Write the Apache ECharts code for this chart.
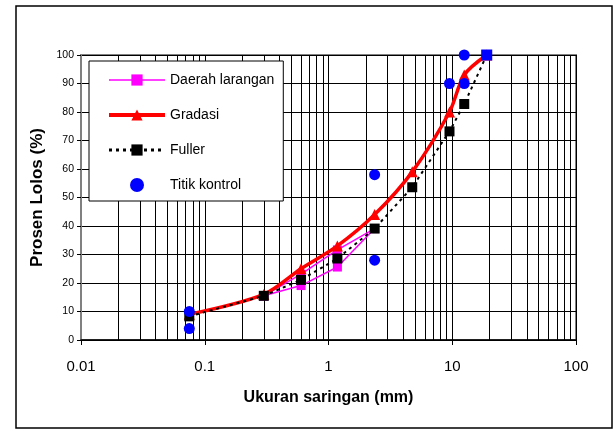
<!DOCTYPE html>
<html>
<head>
<meta charset="utf-8">
<script src="https://cdn.jsdelivr.net/npm/echarts@6/dist/echarts.min.js"></script>
<style>
html,body{margin:0;padding:0;background:#fff;}
#c{width:614px;height:438px;}
</style>
</head>
<body>
<div id="c"></div>
<script>
// ---- data ----
const sieveSizes = [0.075, 0.3, 0.6, 1.18, 2.36, 4.75, 9.5, 12.5, 19];
const gradasi = [9, 16, 25, 33, 44, 59, 80, 93, 100];
const fuller = [8.3, 15.5, 21.1, 28.6, 39.1, 53.6, 73.2, 82.8, 100];
const laranganSizes = [0.3, 0.6, 1.18, 2.36, 1.18, 0.6, 0.3];
const laranganValues = [15.5, 23.1, 31.6, 39.1, 25.6, 19.1, 15.5];
const kontrolSizes = [0.075, 0.075, 2.36, 2.36, 9.5, 12.5, 12.5, 19];
const kontrolValues = [10, 4, 58, 28, 90, 90, 100, 100];
const xTickLabels = ['0.01', '0.1', '1', '10', '100'];
const decades = [0.01, 0.1, 1, 10];
const minorMultipliers = [2, 3, 4, 5, 6, 7, 8, 9];
const seriesNames = ['Daerah larangan', 'Gradasi', 'Fuller', 'Titik kontrol'];

const zip = (xs, ys) => xs.map((x, i) => [x, ys[i]]);
const minorLines = [];
decades.forEach(d => minorMultipliers.forEach(m => minorLines.push({ xAxis: +(d * m).toPrecision(6) })));

const FONT = '"Liberation Sans", Arial, sans-serif';
const chart = echarts.init(document.getElementById('c'), null, { renderer: 'canvas' });

const kontrolData = zip(kontrolSizes, kontrolValues).map((p, i) =>
  i === kontrolSizes.length - 1 ? { value: p, symbol: 'rect', symbolSize: 11 } : p);

chart.setOption({
  animation: false,
  backgroundColor: '#fff',
  textStyle: { fontFamily: FONT, color: '#000' },
  graphic: [{
    type: 'rect', z: -1,
    shape: { x: 16, y: 6, width: 596, height: 422 },
    style: { fill: 'none', stroke: '#000', lineWidth: 1.5 }
  }],
  grid: {
    left: 81, top: 55, right: 38, bottom: 98,
    show: true, borderColor: '#808080', borderWidth: 2, backgroundColor: '#fff'
  },
  legend: {
    data: [
      { name: seriesNames[0], lineStyle: { width: 1.5 } },
      { name: seriesNames[1], lineStyle: { width: 4 } },
      { name: seriesNames[2], lineStyle: { width: 3 } },
      { name: seriesNames[3] }
    ],
    z: 20,
    orient: 'vertical',
    left: 89, top: 61,
    backgroundColor: '#fff',
    borderColor: '#000', borderWidth: 1, borderRadius: 0,
    padding: [12, 9, 9, 18],
    itemGap: 21, itemWidth: 56, itemHeight: 14,
    textStyle: { fontFamily: FONT, fontSize: 14, color: '#000' }
  },
  xAxis: {
    type: 'log', logBase: 10, min: 0.01, max: 100, splitNumber: 4,
    name: 'Ukuran saringan (mm)', nameLocation: 'middle', nameGap: 50,
    nameTextStyle: { fontFamily: FONT, fontSize: 16, fontWeight: 'bold', color: '#000' },
    axisLine: { lineStyle: { color: '#000', width: 1.5 } },
    axisTick: { show: true, length: 5, lineStyle: { color: '#000' } },
    axisLabel: {
      fontFamily: FONT, fontSize: 15, color: '#000', margin: 19,
      formatter: (v, idx) => xTickLabels[idx] !== undefined ? xTickLabels[idx] : String(v)
    },
    splitLine: { show: true, lineStyle: { color: '#000', width: 1 } }
  },
  yAxis: {
    type: 'value', min: 0, max: 100, interval: 10,
    name: 'Prosen Lolos (%)', nameLocation: 'middle', nameGap: 30,
    nameTextStyle: { fontFamily: FONT, fontSize: 17, fontWeight: 'bold', color: '#000' },
    axisLine: { show: true, lineStyle: { color: '#808080', width: 2 } },
    axisTick: { show: true, length: 4, lineStyle: { color: '#000' } },
    axisLabel: { fontFamily: FONT, fontSize: 10.5, color: '#000', margin: 7 },
    splitLine: { show: true, lineStyle: { color: '#000', width: 1 } }
  },
  series: [
    {
      name: '_grid', type: 'line', data: [], silent: true, z: 1,
      markLine: {
        z: 1, silent: true, symbol: ['none', 'none'], label: { show: false },
        lineStyle: { color: '#000', width: 1, type: 'solid' },
        data: minorLines
      }
    },
    {
      name: seriesNames[0], type: 'line', z: 3,
      data: zip(laranganSizes, laranganValues),
      symbol: 'rect', symbolSize: 9,
      lineStyle: { color: '#ff00ff', width: 1.5 },
      itemStyle: { color: '#ff00ff' }
    },
    {
      name: seriesNames[1], type: 'line', z: 4, smooth: 0.3,
      data: zip(sieveSizes, gradasi),
      symbol: 'triangle', symbolSize: 11,
      lineStyle: { color: '#ff0000', width: 3.5 },
      itemStyle: { color: '#ff0000' }
    },
    {
      name: seriesNames[2], type: 'line', z: 5,
      data: zip(sieveSizes, fuller),
      symbol: 'rect', symbolSize: 10,
      lineStyle: { color: '#000', width: 2, type: [3, 4] },
      itemStyle: { color: '#000' }
    },
    {
      name: seriesNames[3], type: 'scatter', z: 6,
      data: kontrolData,
      symbol: 'circle', symbolSize: 11,
      itemStyle: { color: '#0000ff', opacity: 1 }
    }
  ]
});
</script>
</body>
</html>
